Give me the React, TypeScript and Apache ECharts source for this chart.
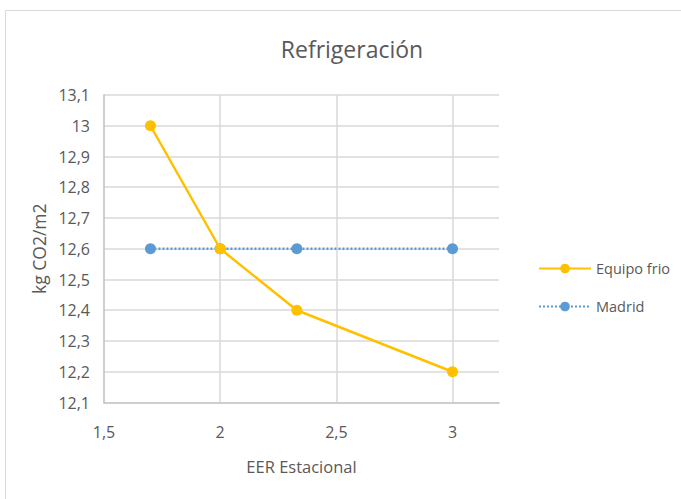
import React, { useEffect, useRef } from "react";
import * as echarts from "echarts";

const title = "Refrigeración";
const xName = "EER Estacional";
const yName = "kg CO2/m2";
const eer = [1.7, 2, 2.33, 3];
const equipoFrio = [13, 12.6, 12.4, 12.2];
const madrid = [12.6, 12.6, 12.6, 12.6];
const seriesNames = ["Equipo frio", "Madrid"];

const fmt = (v: number) => String(Number(v.toFixed(1))).replace(".", ",");
const FONT = "'Open Sans', sans-serif";
const TXT = "#595959";

export default function App() {
  const ref = useRef<HTMLDivElement>(null);
  useEffect(() => {
    document.body.style.margin = "0";
    const chart = echarts.init(ref.current!, undefined, { renderer: "svg" });
    chart.setOption({
      animation: false,
      backgroundColor: "#ffffff",
      textStyle: { fontFamily: FONT, color: TXT },
      title: {
        text: title,
        left: 347,
        textAlign: "center",
        top: 32,
        textStyle: { fontFamily: FONT, fontSize: 23, fontWeight: "normal", color: TXT },
      },
      graphic: [
        {
          type: "rect",
          shape: { x: 5.5, y: 10.5, width: 700, height: 520 },
          style: { fill: "none", stroke: "#d9d9d9", lineWidth: 1 },
          silent: true,
        },
      ],
      legend: {
        orient: "vertical",
        left: 533,
        top: 256,
        itemWidth: 52,
        itemHeight: 12,
        itemGap: 23,
        textStyle: { fontFamily: FONT, fontSize: 14.5, color: TXT },
        data: seriesNames,
      },
      grid: { left: 104, right: 182, top: 95, bottom: 96.5, containLabel: false },
      xAxis: {
        type: "value",
        min: 1.5,
        max: 3.2,
        interval: 0.5,
        name: xName,
        nameLocation: "middle",
        nameGap: 55,
        nameTextStyle: { fontFamily: FONT, fontSize: 16.5, color: TXT },
        axisLine: { show: true, lineStyle: { color: "#bfbfbf", width: 1.5 } },
        axisTick: { show: false },
        axisLabel: {
          fontFamily: FONT,
          fontSize: 16,
          color: TXT,
          margin: 21,
          showMaxLabel: false,
          formatter: (v: number) => (v > 3.05 ? "" : fmt(v)),
        },
        splitLine: { show: true, showMinLine: false, showMaxLine: false, lineStyle: { color: "#d9d9d9", width: 1.5 } },
      },
      yAxis: {
        type: "value",
        min: 12.1,
        max: 13.1,
        interval: 0.1,
        name: yName,
        nameLocation: "middle",
        nameGap: 52,
        nameTextStyle: { fontFamily: FONT, fontSize: 17.5, color: TXT },
        axisLine: { show: true, lineStyle: { color: "#bfbfbf", width: 1.5 } },
        axisTick: { show: false },
        axisLabel: { fontFamily: FONT, fontSize: 16, color: TXT, margin: 14, formatter: fmt },
        splitLine: { show: true, showMinLine: false, lineStyle: { color: "#d9d9d9", width: 1.5 } },
      },
      series: [
        {
          name: seriesNames[0],
          type: "line",
          data: eer.map((x, i) => [x, equipoFrio[i]]),
          symbol: "circle",
          symbolSize: 11,
          itemStyle: { color: "#FFC000" },
          lineStyle: { color: "#FFC000", width: 2.5 },
          z: 3,
        },
        {
          name: seriesNames[1],
          type: "line",
          data: eer.map((x, i) => [x, madrid[i]]),
          symbol: "circle",
          symbolSize: 11,
          itemStyle: { color: "#5B9BD5" },
          lineStyle: { color: "#5B9BD5", width: 2.5, type: [2, 2] },
          z: 2,
        },
      ],
    });
    return () => chart.dispose();
  }, []);
  return <div ref={ref} style={{ width: 681, height: 499 }} />;
}
